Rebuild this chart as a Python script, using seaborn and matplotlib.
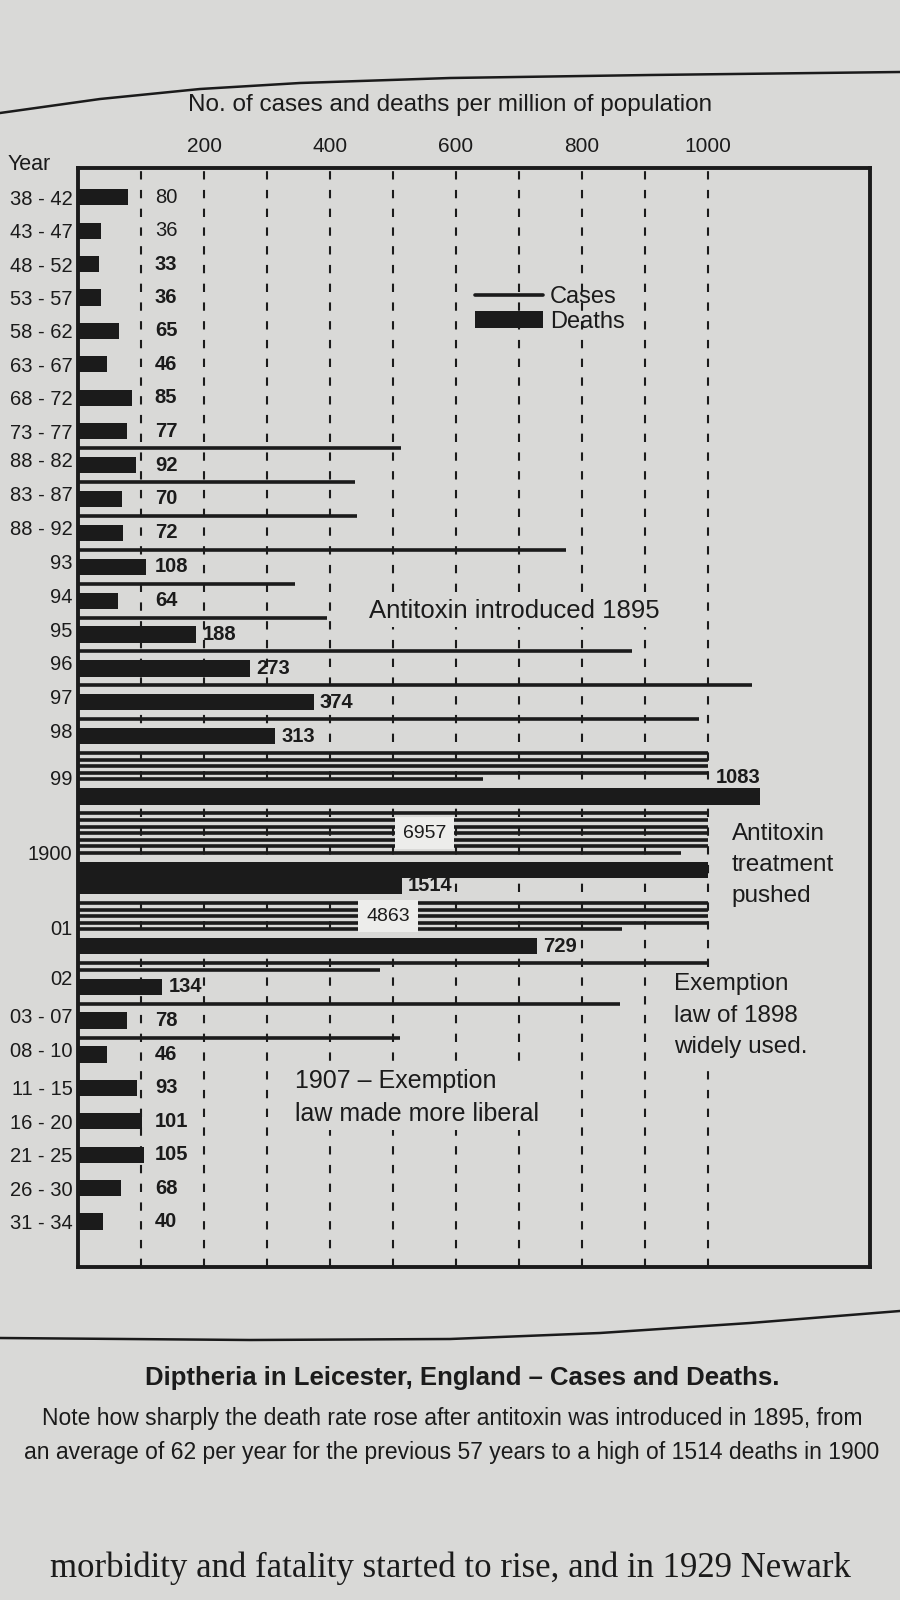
import numpy as np
import pandas as pd
import matplotlib
matplotlib.use("Agg")
import matplotlib.pyplot as plt
from matplotlib.lines import Line2D
from matplotlib.patches import Patch
import seaborn as sns

# Data (per million of population)
years = ["38 - 42", "43 - 47", "48 - 52", "53 - 57", "58 - 62", "63 - 67", "68 - 72",
         "73 - 77", "88 - 82", "83 - 87", "88 - 92", "93", "94", "95", "96", "97", "98",
         "99", "1900", "01", "02", "03 - 07", "08 - 10", "11 - 15", "16 - 20", "21 - 25",
         "26 - 30", "31 - 34"]
deaths = [80, 36, 33, 36, 65, 46, 85, 77, 92, 70, 72, 108, 64, 188, 273, 374, 313,
          1083, 1514, 729, 134, 78, 46, 93, 101, 105, 68, 40]
cases = [np.nan] * 8 + [513, 440, 443, 775, 345, 395, 880, 1070, 985,
                        4643, 6957, 4863, 1480, 861, 511] + [np.nan] * 5
cases_labelled = ["1900", "01"]
top_ticks = [200, 400, 600, 800, 1000]

# look
BG = "#d9d9d7"
INK = "#1b1b1b"
WRAP = 1000          # longer values are drawn as several stacked rows
WRAP_ABOVE = 1100
BAR_H = 16
LINE_STEP = 6.5
LINE_PAD = 5.5
GAP = 17

sns.set_theme(style="white", rc={"axes.facecolor": BG, "figure.facecolor": BG})
plt.rcParams["font.family"] = ["Liberation Sans Narrow", "Liberation Sans", "DejaVu Sans"]
plt.rcParams["text.color"] = INK


def segments(v):
    if np.isnan(v):
        return []
    if v <= WRAP_ABOVE:
        return [v]
    n = int(v // WRAP)
    rest = v - n * WRAP
    return [WRAP] * n + ([rest] if rest > 0 else [])


# stack rows: case lines above each deaths bar
bar_pos, bar_val, line_pos, line_val = [], [], [], []
centres, last_bar, case_mid, bar_mid = {}, {}, {}, {}
y = 0.0
for i, (yr, d, c) in enumerate(zip(years, deaths, cases)):
    csegs, dsegs = segments(c), segments(d)
    if csegs:
        ys = [y + LINE_PAD + (k + 0.5) * LINE_STEP for k in range(len(csegs))]
        line_pos += ys
        line_val += csegs
        case_mid[yr] = np.mean(ys)
        start = ys[0] - 2
        y += 2 * LINE_PAD + len(csegs) * LINE_STEP
    else:
        if i > 0:
            y += GAP
        start = y
    for k, s in enumerate(dsegs):
        bar_pos.append(y + (k + 0.5) * BAR_H)
        bar_val.append(s)
    last_bar[yr] = (y + (len(dsegs) - 0.5) * BAR_H, dsegs[-1], len(dsegs) == 1 and d > WRAP)
    bar_mid[yr] = y + len(dsegs) * BAR_H / 2
    y += len(dsegs) * BAR_H
    centres[yr] = (start + y) / 2
y_end = y

df = pd.DataFrame({"pos": bar_pos, "value": bar_val})

fig = plt.figure(figsize=(9, 16), dpi=100)
ax = fig.add_axes([78 / 900, 1 - 1267 / 1600, 792 / 900, 1099 / 1600])

sns.barplot(data=df, x="value", y="pos", orient="y", native_scale=True, width=1.0,
            color=INK, saturation=1, errorbar=None, linewidth=0, ax=ax)
ax.hlines(line_pos, 0, line_val, color=INK, lw=2.6, zorder=3)

ax.set_xlim(0, 792 / 0.63)
ax.set_ylim(y_end + 37, -21)
ax.set_xlabel("")
ax.set_ylabel("")

# dashed guides every 100
ax.set_axisbelow(True)
ax.xaxis.tick_top()
ax.set_xticks(top_ticks)
ax.set_xticklabels([str(t) for t in top_ticks], family="Liberation Sans", fontsize=15)
ax.set_xticks(np.arange(100, 1001, 100), minor=True)
ax.grid(False)
ax.grid(axis="x", which="both", linestyle=(0, (4, 5)), color=INK, lw=1.5)
ax.tick_params(axis="x", which="both", length=0, pad=9, colors=INK)
ax.set_yticks([centres[yr] for yr in years])
ax.set_yticklabels(years, fontsize=14.5)
ax.tick_params(axis="y", length=0, pad=4, colors=INK)
for sp in ax.spines.values():
    sp.set_visible(True)
    sp.set_color(INK)
    sp.set_linewidth(2.8)

# deaths labels
for i, yr in enumerate(years):
    yb, end, above = last_bar[yr]
    w = "normal" if i < 2 else "bold"
    if above:
        ax.text(end, yb - BAR_H / 2 - 1, str(deaths[i]), ha="right", va="bottom",
                fontsize=14.5, weight=w)
    else:
        ax.text(max(end, 112) + 10, yb, str(deaths[i]), ha="left", va="center",
                fontsize=14.5, weight=w)

# case totals printed on the wrapped blocks
for yr, xx in zip(cases_labelled, [550, 492]):
    v = cases[years.index(yr)]
    ax.text(xx, case_mid[yr], f"{v:.0f}", ha="center", va="center", fontsize=14,
            zorder=4, bbox=dict(boxstyle="square,pad=0.4", fc="#ededeb", ec="none"))

# notes in the plot
box = dict(boxstyle="square,pad=0.15", fc=BG, ec="none")
ax.text(462, bar_mid["94"] + 10, "Antitoxin introduced 1895", fontsize=18.5, ha="left",
        va="center", bbox=box, zorder=0.8)
ax.text(1038, centres["1900"] + 12, "Antitoxin\ntreatment\npushed", fontsize=17.5,
        ha="left", va="center", linespacing=1.55, bbox=box, zorder=0.8)
ax.text(946, bar_mid["03 - 07"] - 5, "Exemption\nlaw of 1898\nwidely used.",
        fontsize=17.5, ha="left", va="center", linespacing=1.55, bbox=box, zorder=0.8)
ax.text(344, (bar_mid["11 - 15"] + bar_mid["16 - 20"]) / 2 - 7,
        "1907 – Exemption\nlaw made more liberal", fontsize=18, ha="left",
        va="center", linespacing=1.5, bbox=box, zorder=0.8)

ax.legend(handles=[Line2D([0], [0], color=INK, lw=2.6),
                   Patch(facecolor=INK, edgecolor=INK, lw=0)],
          labels=["Cases", "Deaths"], loc="upper left",
          bbox_to_anchor=(466 / 900, 1 - 277 / 1600), bbox_transform=fig.transFigure,
          frameon=False, fontsize=17, handlelength=2.85, handleheight=0.7,
          handletextpad=0.3, labelspacing=0.1, borderaxespad=0)

# page furniture (rules of the printed page)
fig.add_artist(Line2D(np.array([0, 100, 200, 300, 450, 650, 900]) / 900,
                      1 - np.array([113, 99, 89, 83, 78, 75, 72]) / 1600,
                      transform=fig.transFigure, color=INK, lw=1.8))
fig.add_artist(Line2D(np.array([0, 250, 450, 600, 750, 900]) / 900,
                      1 - np.array([1338, 1340, 1339, 1333, 1323, 1311]) / 1600,
                      transform=fig.transFigure, color=INK, lw=1.8))
fig.text(450 / 900, 1 - 105 / 1600, "No. of cases and deaths per million of population",
         ha="center", va="center", fontsize=17.5, family="Liberation Sans")
fig.text(8 / 900, 1 - 165 / 1600, "Year", ha="left", va="center", fontsize=15.5)
fig.text(462 / 900, 1 - 1378 / 1600, "Diptheria in Leicester, England – Cases and Deaths.",
         ha="center", va="center", fontsize=18.5, weight="bold")
fig.text(452 / 900, 1 - 1418 / 1600,
         "Note how sharply the death rate rose after antitoxin was introduced in 1895, from",
         ha="center", va="center", fontsize=16.5)
fig.text(452 / 900, 1 - 1452 / 1600,
         "an average of 62 per year for the previous 57 years to a high of 1514 deaths in 1900",
         ha="center", va="center", fontsize=16.5)
fig.text(50 / 900, 1 - 1568 / 1600, "morbidity and fatality started to rise, and in 1929 Newark",
         ha="left", va="center", fontsize=25, family=["Liberation Serif", "DejaVu Serif"])

fig.savefig("out.png", dpi=100, facecolor=BG)
